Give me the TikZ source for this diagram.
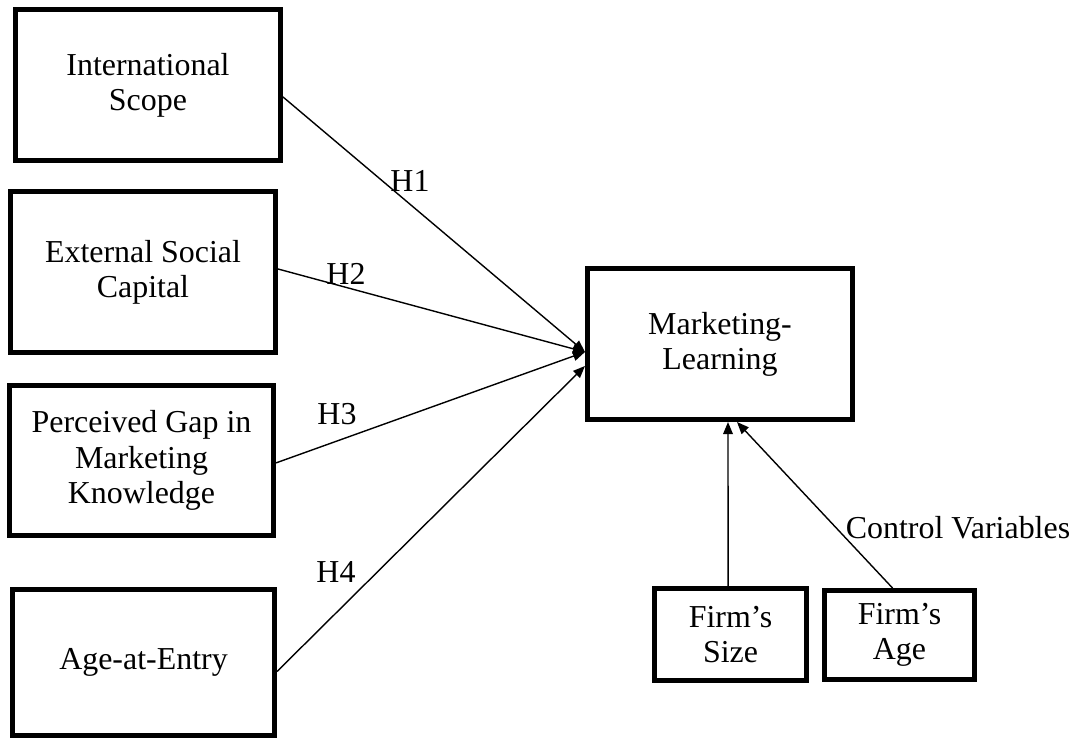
\documentclass[tikz,border=0pt]{standalone}
\usepackage{fontspec}
\setmainfont{Liberation Serif}
\usetikzlibrary{arrows.meta}

\begin{document}
\begin{tikzpicture}[x=0.025cm,y=-0.025cm,
    box/.style={draw,line width=0.125cm,align=center,inner sep=0pt,
      font=\fontsize{22.7}{25}\selectfont},
    lbl/.style={font=\fontsize{22.7}{25}\selectfont},
    link/.style={line width=0.035cm,-{Triangle[length=0.3cm,width=0.24cm]}}]
    \useasboundingbox (0,0) rectangle (1078,740);
    \node [box,minimum width=6.625cm,minimum height=3.775cm] (scope) at (148,85) {International\\Scope};
    \node [box,minimum width=6.625cm,minimum height=4.025cm] (social) at (143,272) {External Social\\Capital};
    \node [box,minimum width=6.6cm,minimum height=3.75cm] (gap) at (141.5,460.5) {Perceived Gap in\\Marketing\\Knowledge};
    \node [box,minimum width=6.55cm,minimum height=3.65cm] (entry) at (143.5,662.5) {Age-at-Entry};
    \node [box,minimum width=6.625cm,minimum height=3.775cm] (mk) at (720,344) {Marketing-\\Learning};
    \node [box,minimum width=3.8cm,minimum height=2.3cm] (size) at (730.5,634.5) {Firm’s\\Size};
    \node [box,minimum width=3.75cm,minimum height=2.225cm] (age) at (899.5,635) {Firm’s\\Age};
    \foreach \from/\ys/\ye in {scope/-0.3/-0.2,social/0.075/-0.2,gap/-0.06/-0.2,entry/-0.225/-0.55}
    \draw [link] ([yshift=\ys cm]\from.east) -- ([yshift=\ye cm]mk.west);
    \draw [link] ([xshift=-0.06cm]size.north) -- ([xshift=0.2cm]mk.south);
    \draw [link] ([xshift=-0.175cm]age.north) -- ([xshift=0.425cm]mk.south);
    \node [lbl] (h1) at (410,181) {H1};
    \node [lbl] (h2) at (346,274) {H2};
    \node [lbl] (h3) at (337,414) {H3};
    \node [lbl] (h4) at (336,572) {H4};
    \node [lbl] (ctrl) at (958,528) {Control Variables};
  \end{tikzpicture}
\end{document}
